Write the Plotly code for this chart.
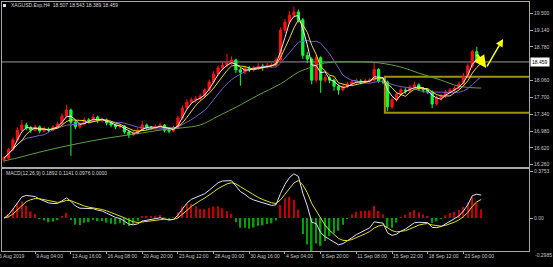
import plotly.graph_objects as go
import pandas as pd

# ---------------- data (one bar = 8 hours) ----------------
bar_index = list(range(108))
opens = [16.36, 16.40, 16.58, 16.79, 17.00, 17.11, 17.05, 17.00, 17.07, 16.98,
         17.02, 17.00, 17.07, 17.13, 17.30, 17.43, 17.17, 17.07, 17.13, 17.22,
         17.20, 17.28, 17.20, 17.22, 17.15, 17.11, 17.07, 17.09, 16.96, 16.90,
         16.94, 17.00, 17.11, 17.05, 17.05, 17.07, 17.11, 17.00, 16.98, 17.05,
         17.26, 17.47, 17.60, 17.65, 17.67, 17.73, 17.86, 18.03, 18.20, 18.33,
         18.39, 18.44, 18.50, 18.29, 18.24, 18.33, 18.29, 18.33, 18.37, 18.35,
         18.39, 18.39, 18.50, 19.14, 19.31, 19.46, 19.53, 19.36, 18.60, 18.52,
         18.07, 18.55, 18.07, 18.12, 18.07, 17.94, 17.86, 17.94, 17.99, 18.03,
         18.05, 18.03, 18.05, 18.07, 18.30, 18.05, 18.03, 17.50, 17.65, 17.77,
         17.86, 17.84, 17.92, 17.97, 17.88, 17.86, 17.82, 17.56, 17.69, 17.73,
         17.82, 17.86, 17.90, 17.99, 18.16, 18.37, 18.68, 18.507]
highs = [16.45, 16.62, 16.84, 17.06, 17.22, 17.16, 17.09, 17.12, 17.10, 17.08,
         17.06, 17.10, 17.18, 17.36, 17.54, 17.46, 17.20, 17.17, 17.27, 17.26,
         17.34, 17.31, 17.27, 17.25, 17.18, 17.14, 17.13, 17.11, 16.99, 16.98,
         17.05, 17.20, 17.14, 17.09, 17.12, 17.16, 17.13, 17.04, 17.09, 17.31,
         17.53, 17.66, 17.70, 17.73, 17.78, 17.90, 18.08, 18.26, 18.38, 18.45,
         18.63, 18.58, 18.53, 18.33, 18.38, 18.37, 18.38, 18.43, 18.42, 18.45,
         18.44, 18.57, 19.20, 19.38, 19.55, 19.64, 19.58, 19.40, 18.68, 18.56,
         18.62, 18.58, 18.18, 18.16, 18.10, 17.98, 17.99, 18.04, 18.08, 18.10,
         18.09, 18.10, 18.12, 18.44, 18.33, 18.09, 18.06, 17.70, 17.82, 17.91,
         17.90, 17.97, 18.04, 18.00, 17.92, 17.90, 17.85, 17.74, 17.78, 17.86,
         17.90, 17.95, 18.04, 18.22, 18.43, 18.72, 18.78, 18.543]
lows = [16.30, 16.38, 16.55, 16.76, 16.97, 17.00, 16.94, 16.97, 16.93, 16.95,
        16.96, 16.98, 17.04, 17.10, 17.27, 16.45, 17.02, 17.03, 17.10, 17.14,
        17.17, 17.15, 17.16, 17.10, 17.06, 17.02, 17.03, 16.92, 16.83, 16.87,
        16.91, 16.98, 17.00, 17.00, 17.02, 17.04, 16.95, 16.93, 16.95, 17.02,
        17.23, 17.43, 17.55, 17.58, 17.62, 17.70, 17.83, 18.00, 18.17, 18.28,
        18.34, 18.40, 18.22, 17.95, 18.20, 18.24, 18.25, 18.29, 18.27, 18.31,
        18.33, 18.36, 18.46, 19.08, 19.27, 19.40, 19.30, 18.52, 18.44, 17.98,
        18.02, 17.80, 18.02, 18.00, 17.84, 17.76, 17.83, 17.90, 17.96, 17.99,
        17.98, 18.00, 18.01, 18.04, 18.01, 17.98, 17.40, 17.45, 17.61, 17.72,
        17.78, 17.80, 17.88, 17.84, 17.80, 17.77, 17.47, 17.52, 17.65, 17.69,
        17.78, 17.82, 17.87, 17.96, 18.12, 18.33, 18.46, 18.389]
closes = [16.40, 16.58, 16.79, 17.00, 17.11, 17.05, 17.00, 17.07, 16.98, 17.02,
          17.00, 17.07, 17.13, 17.30, 17.43, 17.17, 17.07, 17.13, 17.22, 17.20,
          17.28, 17.20, 17.22, 17.15, 17.11, 17.07, 17.09, 16.96, 16.90, 16.94,
          17.00, 17.11, 17.05, 17.05, 17.07, 17.11, 17.00, 16.98, 17.05, 17.26,
          17.47, 17.60, 17.65, 17.67, 17.73, 17.86, 18.03, 18.20, 18.33, 18.39,
          18.44, 18.50, 18.29, 18.24, 18.33, 18.29, 18.33, 18.37, 18.35, 18.39,
          18.39, 18.50, 19.14, 19.31, 19.46, 19.53, 19.36, 18.60, 18.52, 18.07,
          18.55, 18.07, 18.12, 18.07, 17.94, 17.86, 17.94, 17.99, 18.03, 18.05,
          18.03, 18.05, 18.07, 18.30, 18.05, 18.03, 17.50, 17.65, 17.77, 17.86,
          17.84, 17.92, 17.97, 17.88, 17.86, 17.82, 17.56, 17.69, 17.73, 17.82,
          17.86, 17.90, 17.99, 18.16, 18.37, 18.68, 18.507, 18.459]

# long moving average (green), read at a few bars
ma_slow_bars = [0, 4, 8, 13, 17, 22, 26, 31, 35, 40, 44, 48, 53, 57, 62, 66, 69, 71,
                75, 80, 84, 89, 93, 98, 102, 107]
ma_slow_vals = [16.34, 16.43, 16.53, 16.64, 16.72, 16.81, 16.87, 16.94, 17.00, 17.05,
                17.11, 17.30, 17.54, 17.75, 17.99, 18.24, 18.35, 18.42, 18.46, 18.46,
                18.44, 18.35, 18.22, 18.07, 17.94, 17.90]

date_ticks = [7, 15, 23, 31, 39, 47, 55, 63, 71, 79, 87, 95, 103]
date_labels = ["9 Aug 04:00", "13 Aug 16:00", "16 Aug 08:00", "20 Aug 20:00",
               "23 Aug 12:00", "28 Aug 00:00", "30 Aug 16:00", "4 Sep 04:00",
               "6 Sep 20:00", "11 Sep 08:00", "15 Sep 22:00", "18 Sep 12:00",
               "23 Sep 00:00"]
first_date_label = "6 Aug 2019"
price_ticks = [19.50, 19.14, 18.78, 18.06, 17.70, 17.34, 16.98, 16.62, 16.26]
price_tick_labels = ["19.500", "19.140", "18.780", "18.060", "17.700", "17.340",
                     "16.980", "16.620", "16.260"]
macd_ticks = [0.3753, 0.0]
macd_tick_labels = ["0.3753", "0.00"]
macd_min_label = "-0.2985"
macd_header = "MACD(12,26,9) 0.1892 0.1141 0.0976 0.0000"
symbol = "XAGUSD.Exp,H4"
box_high, box_low = 18.14, 17.37
box_start = 85.4

# ---------------- indicators ----------------
s = pd.Series(closes)
ma_fast = s.rolling(3, min_periods=1).mean()
ma_mid = s.rolling(5, min_periods=1).mean()
ma_purple = s.rolling(10, min_periods=1).mean()
ema_f = s.ewm(span=6, adjust=False).mean()
ema_s = s.ewm(span=13, adjust=False).mean()
dif = ema_f - ema_s
dea = dif.ewm(span=4.5, adjust=False).mean()
hist = 2 * (dif - dea)
hist_colors = ["#c00000" if v >= 0 else "#00a000" for v in hist]

# ---------------- figure ----------------
W, H = 553, 267
ML, MR, MT, MB = 2, 24, 2, 16
PW, PH = W - ML - MR, H - MT - MB


def px_x(px):
    return (px - ML) / PW


def px_y(py):
    return (H - MB - py) / PH


fig = go.Figure()
fig.add_trace(go.Candlestick(
    x=bar_index, open=opens, high=highs, low=lows, close=closes,
    increasing=dict(line=dict(color="#ff1010", width=1), fillcolor="#ff1010"),
    decreasing=dict(line=dict(color="#10ff30", width=1), fillcolor="#10ff30"),
    whiskerwidth=0, xaxis="x", yaxis="y", hoverinfo="skip"))
fig.add_trace(go.Scatter(x=ma_slow_bars, y=ma_slow_vals, mode="lines",
                         line=dict(color="#5e9e3e", width=1, shape="spline"),
                         xaxis="x", yaxis="y"))
fig.add_trace(go.Scatter(x=bar_index, y=ma_purple, mode="lines",
                         line=dict(color="#7a5cc8", width=1), xaxis="x", yaxis="y"))
fig.add_trace(go.Scatter(x=bar_index, y=ma_mid, mode="lines",
                         line=dict(color="#e6e020", width=1), xaxis="x", yaxis="y"))
fig.add_trace(go.Scatter(x=bar_index, y=ma_fast, mode="lines",
                         line=dict(color="#f4e8f0", width=1), xaxis="x", yaxis="y"))

fig.add_trace(go.Bar(x=bar_index, y=hist, marker=dict(color=hist_colors, line=dict(width=0)),
                     width=0.35, xaxis="x2", yaxis="y2"))
fig.add_trace(go.Scatter(x=bar_index, y=dif, mode="lines",
                         line=dict(color="#e0e0f4", width=1), xaxis="x2", yaxis="y2"))
fig.add_trace(go.Scatter(x=bar_index, y=dea, mode="lines",
                         line=dict(color="#e0e020", width=1), xaxis="x2", yaxis="y2"))

frame = "#a8a8a8"
axis_common = dict(showgrid=False, zeroline=False, showline=True, mirror=True,
                   linecolor=frame, linewidth=1)
x_range = [-0.45, -0.45 + PW / 4.46]
fig.update_layout(
    width=W, height=H, margin=dict(l=ML, r=MR, t=MT, b=MB),
    paper_bgcolor="black", plot_bgcolor="black", showlegend=False,
    font=dict(family="Liberation Sans, Arial, sans-serif", size=5, color="#c8c8c8"),
    xaxis=dict(domain=[0, 1], range=x_range, showticklabels=False, anchor="y",
               rangeslider=dict(visible=False), **axis_common),
    xaxis2=dict(domain=[0, 1], range=x_range, anchor="y2", tickvals=date_ticks,
                ticktext=date_labels, ticks="outside", ticklen=2, tickcolor=frame,
                tickangle=0, ticklabelposition="outside right", **axis_common),
    yaxis=dict(domain=[px_y(167), 1], range=[16.211, 19.742], side="right", anchor="x",
               tickvals=price_ticks, ticktext=price_tick_labels, ticks="outside",
               ticklen=3, tickcolor=frame, **axis_common),
    yaxis2=dict(domain=[0, px_y(169)], range=[-0.2636, 0.3914], side="right", anchor="x2",
                tickvals=macd_ticks, ticktext=macd_tick_labels, ticks="outside",
                ticklen=3, tickcolor=frame, **axis_common),
)

# bid line, support/resistance box
fig.add_shape(type="line", xref="paper", yref="y", x0=0, x1=1, y0=closes[-1], y1=closes[-1],
              line=dict(color="#9a9a9a", width=1), layer="below")
fig.add_shape(type="rect", xref="x", yref="y", x0=box_start, x1=x_range[1] + 2,
              y0=box_low, y1=box_high, line=dict(color="#9c9400", width=2), layer="below")

# header icon
fig.add_shape(type="rect", xref="paper", yref="paper", x0=px_x(3), x1=px_x(6),
              y0=px_y(7), y1=px_y(4), fillcolor="#e0e0e0", line=dict(width=0))

annotations = [
    dict(x=px_x(9), y=px_y(5.5), xref="paper", yref="paper", xanchor="left", yanchor="middle",
         text=f"{symbol}  {opens[-1]:.3f} {highs[-1]:.3f} {lows[-1]:.3f} {closes[-1]:.3f}",
         showarrow=False, font=dict(size=5, color="#d8d8d8")),
    dict(x=px_x(4), y=px_y(173), xref="paper", yref="paper", xanchor="left", yanchor="middle",
         text=macd_header, showarrow=False, font=dict(size=5, color="#d8d8d8")),
    dict(x=1, y=closes[-1], xref="paper", yref="y", xanchor="left", yanchor="middle", xshift=1,
         text=f"{closes[-1]:.3f}", showarrow=False, bgcolor="#ffffff",
         font=dict(size=5, color="#000000"), borderpad=1),
    dict(x=1, y=px_y(255), xref="paper", yref="paper", xanchor="left", yanchor="middle", xshift=4,
         text=macd_min_label, showarrow=False, font=dict(size=5, color="#c8c8c8")),
    dict(x=px_x(-3), y=px_y(256), xref="paper", yref="paper", xanchor="left", yanchor="middle",
         text=first_date_label, showarrow=False, font=dict(size=5, color="#c8c8c8")),
    # hand-drawn yellow arrows
    dict(x=108.1, y=18.33, ax=105.8, ay=18.65, xref="x", yref="y", axref="x", ayref="y",
         showarrow=True, arrowhead=2, arrowsize=1, arrowwidth=2.5, arrowcolor="#ffff00", text=""),
    dict(x=111.9, y=18.95, ax=108.1, ay=18.33, xref="x", yref="y", axref="x", ayref="y",
         showarrow=True, arrowhead=2, arrowsize=1, arrowwidth=1.5, arrowcolor="#ffff00", text=""),
]
fig.update_layout(annotations=annotations)

fig.write_html("out.html")
